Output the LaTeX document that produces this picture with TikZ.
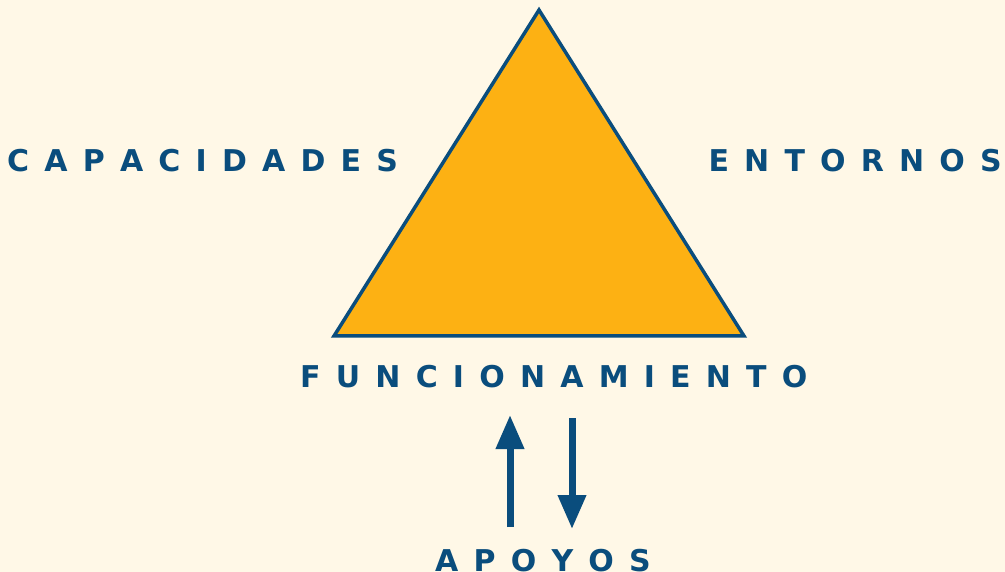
\documentclass[tikz,border=0pt]{standalone}
\usepackage{fontspec}
\setmainfont{DejaVu Sans}
\usetikzlibrary{arrows.meta}
\definecolor{bg}{HTML}{FFF8E7}
\definecolor{tri}{HTML}{FDB113}
\definecolor{navy}{HTML}{0A4D7D}
\newcommand\lblfont{\fontsize{30}{30}\selectfont\bfseries\spaceskip=15.2pt\relax}
\begin{document}
\begin{tikzpicture}[x=1pt,y=-1pt,
  lbl/.style={inner sep=0pt, text=navy, font=\lblfont},
  updown/.style={draw=navy, line width=7pt, -{Triangle[width=27pt,length=34pt]}}]
\fill[bg] (0,0) rectangle (1005,572);
\useasboundingbox (0,0) rectangle (1005,572);
\coordinate (top) at (539,10);
\coordinate (bl) at (334,336);
\coordinate (br) at (744,336);
\filldraw[fill=tri, draw=navy, line width=3.5pt, line join=miter] (top) -- (br) -- (bl) -- cycle;
\node[lbl, anchor=base west] (cap) at (7,172) {C A P A C I D A D E S};
\node[lbl, anchor=base east] (ent) at (1002,172) {E N T O R N O S};
\node[lbl, anchor=base west] (fun) at (300,387) {F U N C I O N A M I E N T O};
\node[lbl, anchor=base west] (apo) at (435,571) {A P O Y O S};
\coordinate (u1) at (510,527);
\coordinate (u2) at (510,415);
\coordinate (d1) at (572,418);
\coordinate (d2) at (572,529);
\draw[updown] (u1) -- (u2);
\draw[updown] (d1) -- (d2);
\end{tikzpicture}
\end{document}
